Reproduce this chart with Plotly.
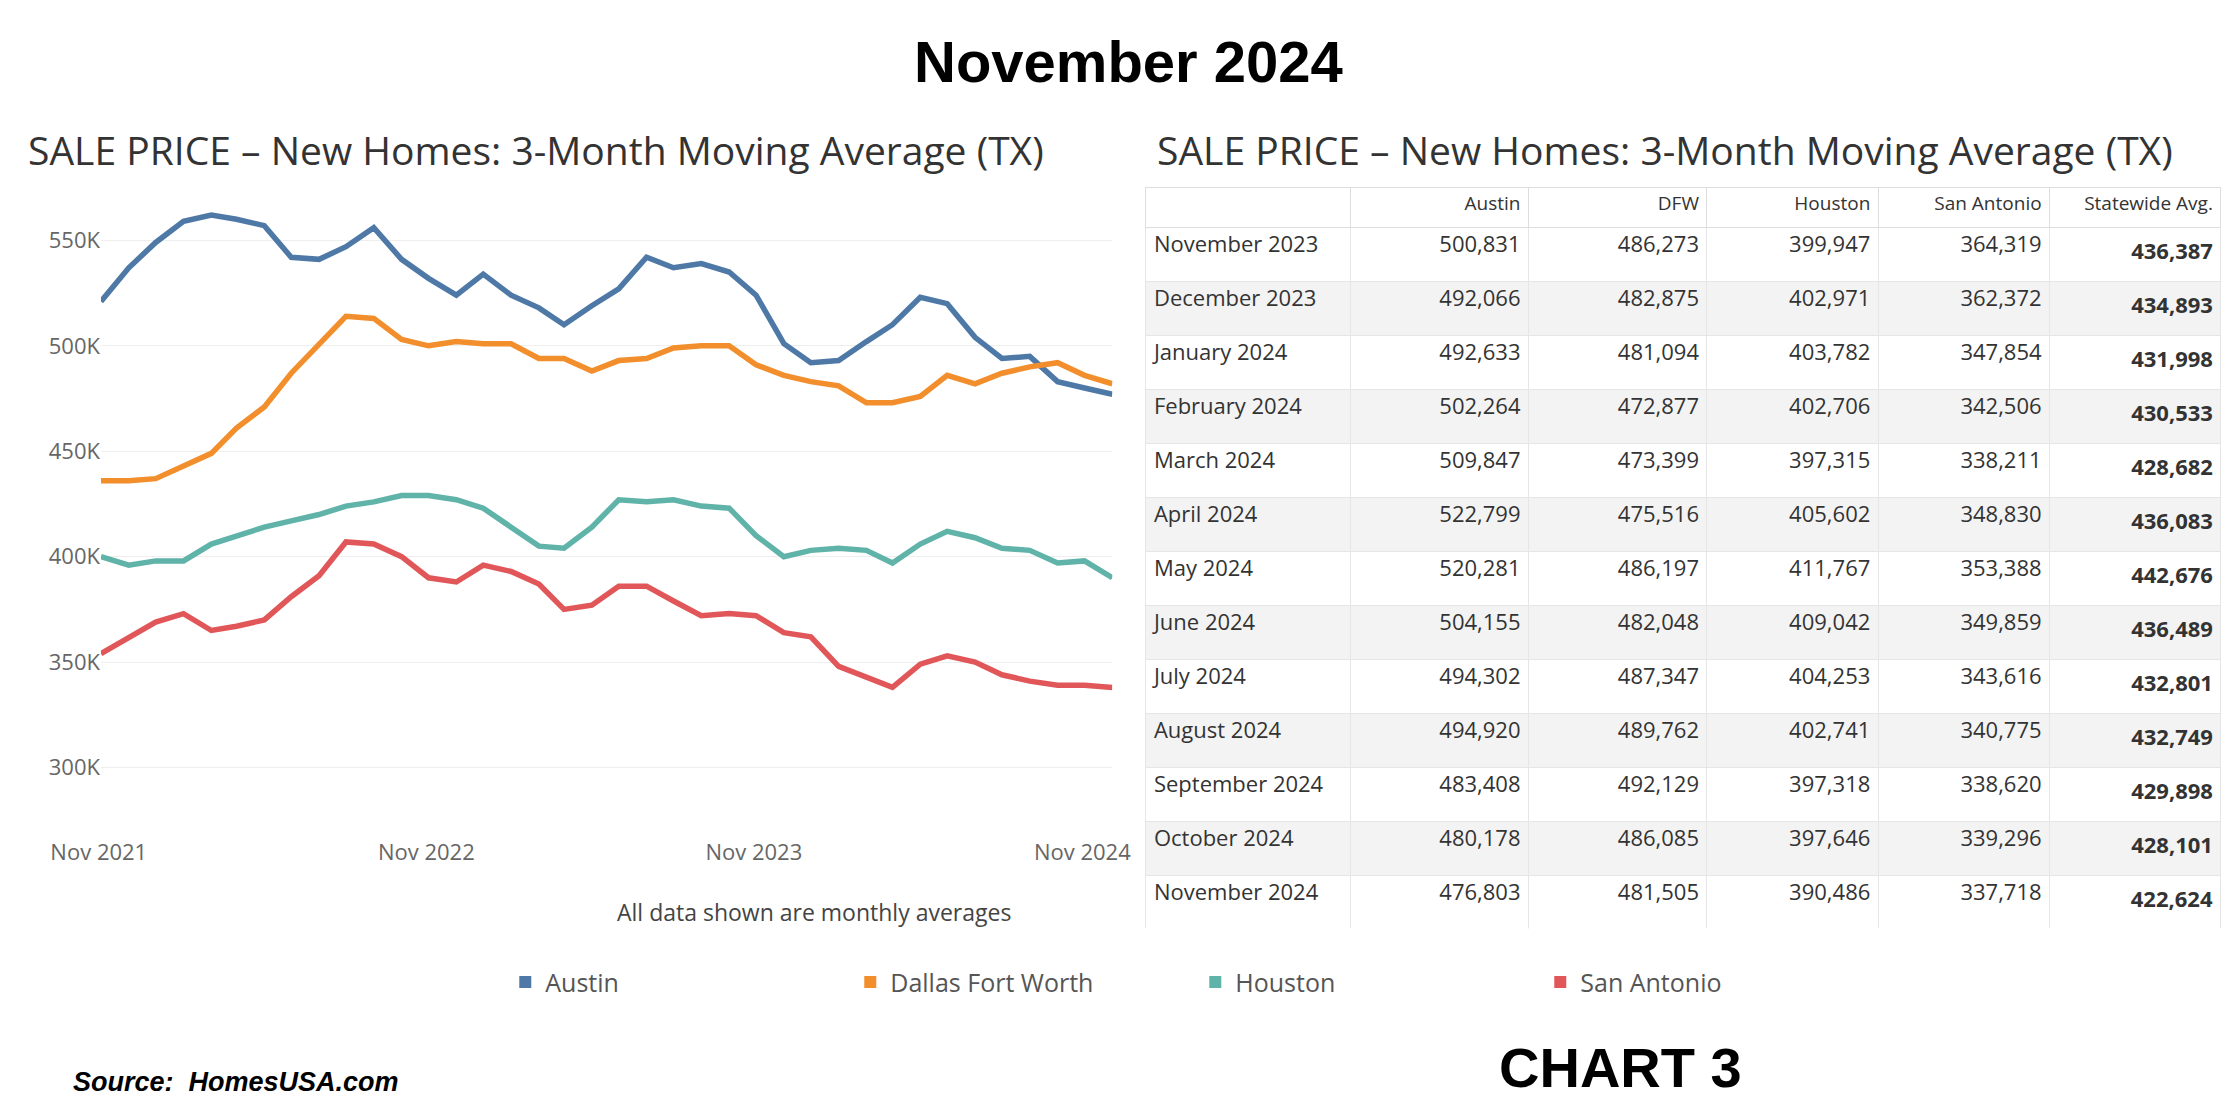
import pandas as pd
import plotly.graph_objects as go

months = pd.date_range("2021-10-01", "2024-11-01", freq="MS")

austin = [521, 537, 549, 559, 562, 560, 557, 542, 541, 547, 556, 541, 532, 524, 534, 524, 518, 510, 519,
          527, 542, 537, 539, 535, 524, 501, 492, 493, 502, 510, 523, 520, 504, 494, 495, 483, 480, 477]
dfw = [436, 436, 437, 443, 449, 461, 471, 487, 501, 514, 513, 503, 500, 502, 501, 501, 494, 494, 488,
       493, 494, 499, 500, 500, 491, 486, 483, 481, 473, 473, 476, 486, 482, 487, 490, 492, 486, 482]
houston = [400, 396, 398, 398, 406, 410, 414, 417, 420, 424, 426, 429, 429, 427, 423, 414, 405, 404, 414,
           427, 426, 427, 424, 423, 410, 400, 403, 404, 403, 397, 406, 412, 409, 404, 403, 397, 398, 390]
san_antonio = [354, 362, 369, 373, 365, 367, 370, 381, 391, 407, 406, 400, 390, 388, 396, 393, 387, 375, 377,
               386, 386, 379, 372, 373, 372, 364, 362, 348, 343, 338, 349, 353, 350, 344, 341, 339, 339, 338]

table_months = ["November 2023", "December 2023", "January 2024", "February 2024", "March 2024",
                "April 2024", "May 2024", "June 2024", "July 2024", "August 2024",
                "September 2024", "October 2024", "November 2024"]
t_austin = ["500,831", "492,066", "492,633", "502,264", "509,847", "522,799", "520,281",
            "504,155", "494,302", "494,920", "483,408", "480,178", "476,803"]
t_dfw = ["486,273", "482,875", "481,094", "472,877", "473,399", "475,516", "486,197",
         "482,048", "487,347", "489,762", "492,129", "486,085", "481,505"]
t_houston = ["399,947", "402,971", "403,782", "402,706", "397,315", "405,602", "411,767",
             "409,042", "404,253", "402,741", "397,318", "397,646", "390,486"]
t_sa = ["364,319", "362,372", "347,854", "342,506", "338,211", "348,830", "353,388",
        "349,859", "343,616", "340,775", "338,620", "339,296", "337,718"]
t_state = ["436,387", "434,893", "431,998", "430,533", "428,682", "436,083", "442,676",
           "436,489", "432,801", "432,749", "429,898", "428,101", "422,624"]

series = [("Austin", austin, "#4e79a7"), ("Dallas Fort Worth", dfw, "#f28e2b"),
          ("Houston", houston, "#5fb3a8"), ("San Antonio", san_antonio, "#e15759")]

fig = go.Figure()
for name, vals, color in series:
    fig.add_trace(go.Scatter(x=months, y=[v * 1000 for v in vals], mode="lines", name=name,
                             line=dict(color=color, width=5.5), showlegend=False))
    # square legend swatch
    fig.add_trace(go.Scatter(x=[None], y=[None], mode="markers", name=name,
                             marker=dict(symbol="square", size=22, color=color)))

fills = [["white" if i % 2 == 0 else "#f3f3f3" for i in range(len(table_months))]]
fig.add_trace(go.Table(
    domain=dict(x=[0.508, 0.988], y=[0.168, 0.838]),
    columnwidth=[143, 125, 125, 120, 120, 120],
    header=dict(values=["", "Austin", "DFW", "Houston", "San Antonio", "Statewide Avg."],
                align=["left", "right"], height=40, fill_color="white",
                line_color="#dddddd", font=dict(family="Open Sans", size=19, color="#333")),
    cells=dict(values=[table_months, t_austin, t_dfw, t_houston, t_sa,
                       ["<b>%s</b>" % v for v in t_state]],
               align=["left", "right"], height=54, fill_color=fills * 6,
               line_color="#e6e6e6", font=dict(family="Open Sans", size=22, color="#333"))))

fig.update_layout(
    width=2240, height=1107, margin=dict(l=0, r=0, t=0, b=0),
    paper_bgcolor="white", plot_bgcolor="white",
    font=dict(family="Open Sans", color="#555"),
    xaxis=dict(domain=[0.0415, 0.493], range=[months[0], months[-1]], automargin=False,
               tickvals=pd.to_datetime(["2021-11-01", "2022-11-01", "2023-11-01", "2024-11-01"]),
               tickformat="%b %Y", tickfont=dict(size=22, color="#666"), ticklabelshift=-30,
               showgrid=False, zeroline=False, showline=False, ticks=""),
    yaxis=dict(domain=[0.251, 0.832], range=[267000, 572000], automargin=False,
               tickvals=[300000, 350000, 400000, 450000, 500000, 550000],
               ticktext=["300K", "350K", "400K", "450K", "500K", "550K"],
               tickfont=dict(size=22, color="#666"), gridcolor="#eeeeee", zeroline=False),
    legend=dict(orientation="h", x=0.222, xanchor="left", y=0.12, yanchor="middle",
                font=dict(size=25, color="#555"), entrywidth=300, itemsizing="constant"),
    annotations=[
        dict(text="<b>November 2024</b>", x=0.5, y=0.952, xref="paper", yref="paper",
             yanchor="middle", showarrow=False,
             font=dict(family="Liberation Sans", size=58, color="black")),
        dict(text="SALE PRICE \u2013 New Homes: 3-Month Moving Average (TX)", x=0.008, y=0.872,
             xref="paper", yref="paper", xanchor="left", yanchor="middle", showarrow=False,
             font=dict(size=39, color="#333")),
        dict(text="SALE PRICE \u2013 New Homes: 3-Month Moving Average (TX)", x=0.512, y=0.872,
             xref="paper", yref="paper", xanchor="left", yanchor="middle", showarrow=False,
             font=dict(size=39, color="#333")),
        dict(text="All data shown are monthly averages", x=0.271, y=0.183, xref="paper",
             yref="paper", yanchor="middle", showarrow=False, font=dict(size=23, color="#444")),
        dict(text="<b><i>Source:  HomesUSA.com</i></b>", x=0.028, y=0.03, xref="paper",
             yref="paper", xanchor="left", yanchor="middle", showarrow=False,
             font=dict(family="Liberation Sans", size=27, color="black")),
        dict(text="<b>CHART 3</b>", x=0.775, y=0.043, xref="paper", yref="paper",
             yanchor="middle", showarrow=False,
             font=dict(family="Liberation Sans", size=56, color="black")),
    ],
)

fig.write_html("out.html")
